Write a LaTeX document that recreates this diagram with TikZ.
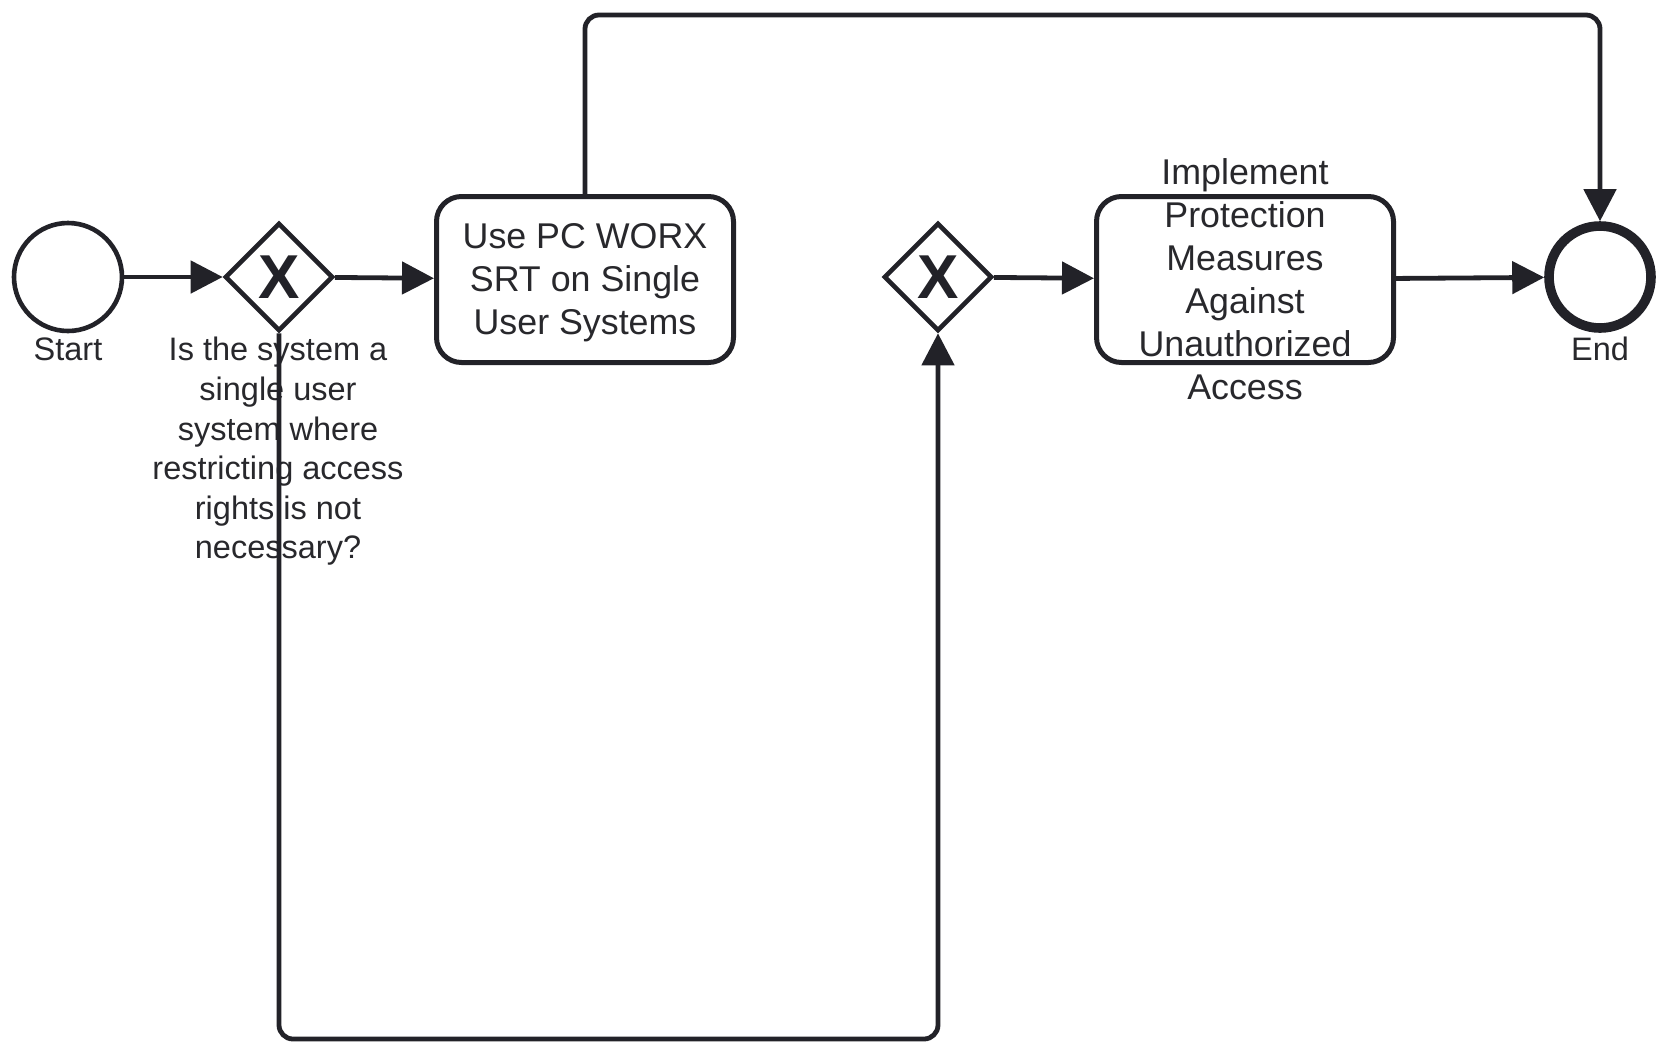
\documentclass[tikz,border=0pt]{standalone}
\usepackage{fontspec}
\setmainfont{Liberation Sans}
\usetikzlibrary{shapes.geometric,arrows.meta}
\definecolor{ink}{RGB}{34,34,40}
\definecolor{txt}{RGB}{40,40,44}
\begin{document}
\begin{tikzpicture}[x=0.5pt,y=-0.5pt,
  startev/.style={circle,draw=ink,line width=2.3pt,minimum size=54pt,inner sep=0pt,fill=white},
  endev/.style={circle,draw=ink,line width=4.8pt,minimum size=51pt,inner sep=0pt,fill=white},
  gateway/.style={diamond,aspect=1,draw=ink,line width=2.3pt,minimum size=54pt,inner sep=0pt,fill=white,
    text=ink,font=\fontsize{31}{31}\selectfont\bfseries},
  task/.style={rectangle,rounded corners=12.5pt,draw=ink,line width=2.5pt,minimum width=148.5pt,minimum height=83pt,fill=white},
  tasktext/.style={align=center,text=txt,inner sep=0pt,font=\fontsize{17.9}{21.5}\selectfont},
  lbl/.style={align=center,text=txt,inner sep=0pt,font=\fontsize{16.25}{19.8}\selectfont},
  flow/.style={draw=ink,line width=2.4pt,rounded corners=7pt,-{Triangle[length=16pt,width=16pt]}}
]
\useasboundingbox[fill=white] (0,0) rectangle (1671,1056);

\node[startev] (start) at (68,277) {};
\node[gateway] (gw1) at (279,277) {X};
\node[task] (t1) at (585,279.5) {};
\node[gateway] (gw2) at (938,277) {X};
\node[task] (t2) at (1245,279.5) {};
\node[endev] (endev) at (1600,277) {};

\coordinate (topy) at (0,15);
\coordinate (boty) at (0,1039);

\node[tasktext] (t1text) at ([yshift=-1.5pt]t1.center) {Use PC WORX\\SRT on Single\\User Systems};
\node[tasktext] (t2text) at (t2.center) {Implement\\Protection\\Measures\\Against\\Unauthorized\\Access};

\node[lbl] (startlbl) at (68,349) {Start};
\node[lbl] (endlbl) at (1600,349) {End};
\node[lbl,anchor=north] (gw1lbl) at (278,337) {Is the system a\\single user\\system where\\restricting access\\rights is not\\necessary?};

\draw[flow] (start) -- (gw1);
\draw[flow] (gw1) -- (t1);
\draw[flow] (t1.north) -- (t1.north |- topy) -- (endev.north |- topy) -- (endev.north);
\draw[flow] (gw1.south) -- (gw1.south |- boty) -- (gw2.south |- boty) -- (gw2.south);
\draw[flow] (gw2) -- (t2);
\draw[flow] (t2) -- (endev);
\end{tikzpicture}
\end{document}
